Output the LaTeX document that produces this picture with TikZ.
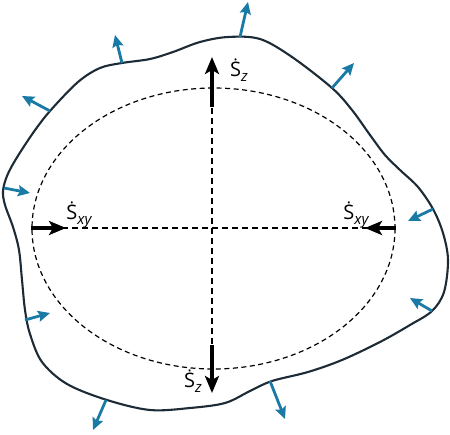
\documentclass[tikz,border=0pt]{standalone}
\usepackage{fontspec}
\setmainfont{Open Sans}
\usetikzlibrary{arrows.meta}
\definecolor{outl}{HTML}{1C2B36}
\definecolor{flux}{HTML}{1A7AA6}
\newcommand{\Sdot}{\accent"02D9 S}
\newcommand{\subt}[1]{\raisebox{-0.45ex}{\fontsize{15}{17}\selectfont\itshape #1}}
\tikzset{
  outline/.style={draw=outl, line width=2.1pt},
  guide/.style={draw=black, line width=1.5pt, dash pattern=on 6pt off 4pt},
  ring/.style={draw=black, line width=1.2pt, dash pattern=on 5pt off 3.5pt},
  flow/.style={draw=flux, line width=2.8pt, -{Stealth[length=12pt,width=11pt,inset=2pt]}},
  strain/.style={draw=black, line width=3.4pt, -{Stealth[length=17pt,width=14pt,inset=4pt]}},
  lab/.style={font=\fontsize{20}{24}\selectfont, inner sep=0pt}
}
\begin{document}
\begin{tikzpicture}[x=1pt,y=-1pt]
\useasboundingbox (0,0) rectangle (450,434);
% outline
\draw[outline] plot[smooth cycle, tension=0.55] coordinates {
 (228,37) (260,39) (292,57) (332,88) (352,110) (370,135)
 (385,155) (400,170) (418,187) (433,209) (443,233) (448,260)
 (444,292) (432,311) (410,325) (380,342) (342,360) (308,372)
 (272,381) (250,391) (225,403) (190,408) (150,410) (107,400)
 (67,384) (42,362) (30,334) (25,310) (22,280) (19,250)
 (13,227) (5,205) (3,191) (7,176) (16,159) (33,133) (50,111)
 (78,82) (100,68) (122,63) (150,59) (173,52) (200,42)};
% ellipse and axes
\draw[ring] (213.5,228.5) ellipse [x radius=181.5, y radius=140.5];
\coordinate (vt) at (212,88);
\coordinate (vb) at (212,369);
\coordinate (hl) at (32,228);
\coordinate (hr) at (395,228);
\draw[guide] (vt) -- (vb);
\draw[guide] (hl) -- (hr);
% strain arrows
\coordinate (ta) at (212,107); \coordinate (tb) at (212,57);
\coordinate (ba) at (212,345); \coordinate (bb) at (212,393);
\coordinate (la) at (31,228); \coordinate (lb) at (66,228);
\coordinate (ra) at (396,228); \coordinate (rb) at (365,228);
\draw[strain] (ta) -- (tb);
\draw[strain] (ba) -- (bb);
\draw[strain] (la) -- (lb);
\draw[strain] (ra) -- (rb);
% labels
\node[lab] (lt) at (239,70) {\Sdot\subt{z}};
\node[lab] (lb2) at (193,381) {\Sdot\subt{z}};
\node[lab] (ll) at (79,215) {\Sdot\subt{xy}};
\node[lab] (lr) at (356,215) {\Sdot\subt{xy}};
% flux arrows
\coordinate (f1a) at (240,37);  \coordinate (f1b) at (248,2);
\coordinate (f2a) at (122,63);  \coordinate (f2b) at (115,35);
\coordinate (f3a) at (50,111);  \coordinate (f3b) at (22,96);
\coordinate (f4a) at (4,188);   \coordinate (f4b) at (30,193);
\coordinate (f5a) at (332,88);  \coordinate (f5b) at (354,63);
\coordinate (f6a) at (433,209); \coordinate (f6b) at (408,221);
\coordinate (f7a) at (432,311); \coordinate (f7b) at (410,298);
\coordinate (f8a) at (270,381); \coordinate (f8b) at (285,419);
\coordinate (f9a) at (106,400); \coordinate (f9b) at (93,430);
\coordinate (f10a) at (25,320); \coordinate (f10b) at (50,313);
\foreach \i in {1,...,10} \draw[flow] (f\i a) -- (f\i b);
\end{tikzpicture}
\end{document}
